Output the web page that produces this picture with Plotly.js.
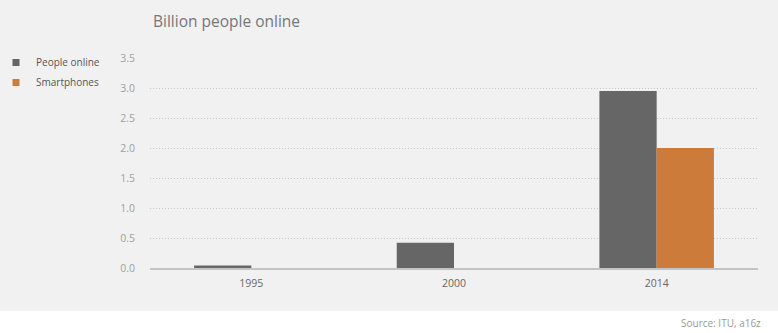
<!DOCTYPE html>
<html>
<head>
<meta charset="utf-8">
<script src="https://cdn.plot.ly/plotly-3.0.1.min.js"></script>
<style>html,body{margin:0;padding:0;background:#fff;}#chart{width:778px;height:333px;}</style>
</head>
<body>
<div id="chart"></div>
<script>
const years = ["1995", "2000", "2014"];
const peopleOnline = [0.04, 0.42, 2.95];
const smartphones = [null, null, 2.0];
const yTicks = [0, 0.5, 1.0, 1.5, 2.0, 2.5, 3.0, 3.5];
const yTickLabels = ["0.0", "0.5", "1.0", "1.5", "2.0", "2.5", "3.0", "3.5"];

const FONT = "'Open Sans', 'Noto Sans', sans-serif";
const W = 778, H = 333;
const mL = 150, mR = 20, mT = 58, mB = 65;
const pw = W - mL - mR, ph = H - mT - mB;

const traces = [
  {type: "bar", x: years, y: peopleOnline, name: "People online",
   marker: {color: "#666666"}, showlegend: false, hoverinfo: "y"},
  {type: "bar", x: years, y: smartphones, name: "Smartphones",
   marker: {color: "#cd7b3a"}, showlegend: false, hoverinfo: "y"},
  {type: "scatter", mode: "markers", x: [null], y: [null], name: "People online",
   marker: {symbol: "square", size: 7, color: "#666666"}, legendgroup: "a"},
  {type: "scatter", mode: "markers", x: [null], y: [null], name: "Smartphones",
   marker: {symbol: "square", size: 7, color: "#cd7b3a"}, legendgroup: "b"}
];

const layout = {
  width: W, height: H,
  margin: {l: mL, r: mR, t: mT, b: mB, pad: 0, autoexpand: false},
  paper_bgcolor: "#ffffff",
  plot_bgcolor: "rgba(0,0,0,0)",
  font: {family: FONT, color: "#666"},
  barmode: "group",
  bargap: 0.435,
  bargroupgap: 0,
  title: {text: "Billion people online", x: 153 / W, xanchor: "left",
          y: 1 - 22 / H, yanchor: "middle", xref: "container", yref: "container",
          font: {family: FONT, size: 15.5, color: "#777777"}},
  xaxis: {type: "category", showgrid: false, zeroline: false,
          showline: true, linecolor: "#c4c4c4", linewidth: 2,
          ticks: "outside", ticklen: 4, tickcolor: "rgba(0,0,0,0)",
          tickfont: {family: FONT, size: 10.5, color: "#666"},
          automargin: false},
  yaxis: {range: [0, 3.5], tickvals: yTicks, ticktext: yTickLabels,
          showgrid: true, gridcolor: "#c8c8c8", griddash: "1px,2px", gridwidth: 1,
          zeroline: false, showline: false, ticks: "outside", ticklen: 12,
          tickcolor: "rgba(0,0,0,0)",
          tickfont: {family: FONT, size: 10.5, color: "#a0a0a0"}, automargin: false},
  legend: {x: (-4 - mL) / pw, xanchor: "left", y: 1 + (mT - 48) / ph, yanchor: "top",
           bgcolor: "rgba(0,0,0,0)", font: {family: FONT, size: 10, color: "#555"},
           traceorder: "grouped", tracegroupgap: 1, itemwidth: 30},
  shapes: [{type: "rect", xref: "paper", yref: "paper", layer: "below",
            x0: -mL / pw, x1: 1 + mR / pw, y0: -(311 - mT - ph) / ph, y1: 1 + mT / ph,
            fillcolor: "#f1f1f1", line: {width: 0}}],
  annotations: [{text: "Source: ITU, a16z", xref: "paper", yref: "paper",
                 x: 1 + (763 - (W - mR)) / pw, xanchor: "right",
                 y: -(323 - mT - ph) / ph, yanchor: "middle", showarrow: false,
                 font: {family: FONT, size: 10, color: "#999"}}]
};

Plotly.newPlot("chart", traces, layout, {displayModeBar: false, staticPlot: true});
</script>
</body>
</html>
